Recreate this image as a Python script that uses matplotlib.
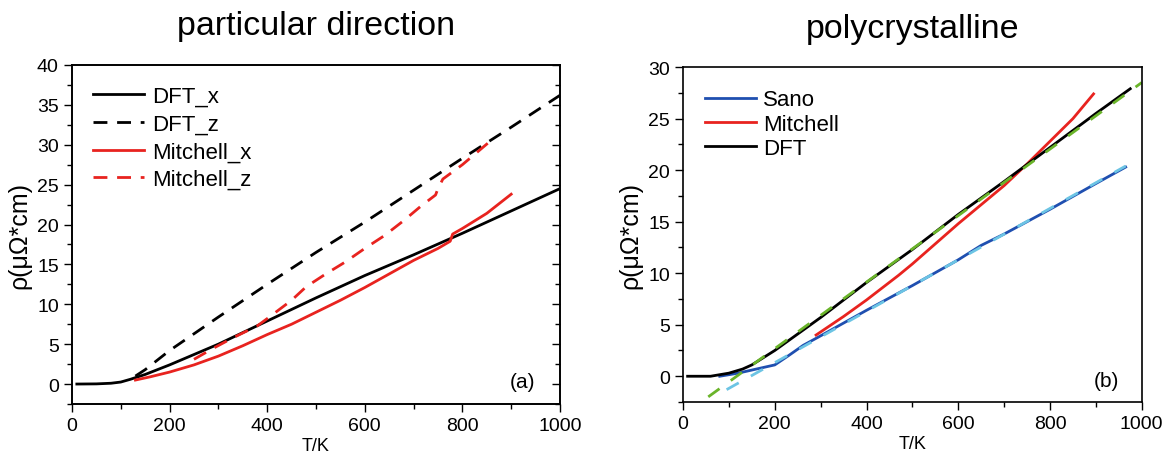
import numpy as np
import matplotlib
matplotlib.use("Agg")
import matplotlib.pyplot as plt
from matplotlib.ticker import MultipleLocator

plt.rcParams['font.family'] = ['Liberation Sans', 'DejaVu Sans']

# ---- panel (a): particular direction ----
dftx_T = [10, 50, 80, 100, 120, 150, 200, 250, 300, 400, 500, 600, 700, 800, 900, 1000]
dftx_r = [0.0, 0.02, 0.1, 0.25, 0.6, 1.2, 2.4, 3.7, 5.0, 7.9, 10.8, 13.6, 16.2, 18.9, 21.7, 24.5]

dftz_T = [130, 150, 200, 250, 300, 400, 500, 600, 700, 800, 900, 1000]
dftz_r = [1.0, 1.8, 4.2, 6.3, 8.4, 12.5, 16.5, 20.3, 24.3, 28.3, 32.2, 36.2]

mitx_T = [130, 160, 200, 250, 300, 350, 400, 450, 500, 550, 600, 650, 700, 750, 775, 780, 800, 850, 900]
mitx_r = [0.5, 0.9, 1.5, 2.4, 3.5, 4.8, 6.2, 7.5, 9.0, 10.5, 12.1, 13.8, 15.5, 17.0, 17.9, 18.8, 19.5, 21.4, 23.8]

mitz_T = [250, 290, 330, 380, 400, 450, 480, 520, 560, 600, 640, 680, 715, 745, 750, 760, 800, 860]
mitz_r = [3.1, 4.5, 5.8, 7.3, 8.2, 10.5, 12.2, 13.8, 15.3, 17.0, 18.6, 20.5, 22.3, 23.7, 24.5, 25.7, 27.5, 30.6]

# ---- panel (b): polycrystalline ----
sano_T = [80, 120, 150, 200, 230, 262, 295, 400, 500, 600, 650, 700, 800, 900, 965]
sano_r = [0.0, 0.3, 0.6, 1.1, 2.0, 3.0, 3.8, 6.4, 8.8, 11.3, 12.7, 13.8, 16.2, 18.7, 20.3]

sanofit_T = [95, 965]
sanofit_r = [-1.3, 20.4]

mitb_T = [290, 350, 400, 470, 500, 600, 700, 750, 800, 850, 895]
mitb_r = [4.0, 5.8, 7.4, 9.8, 10.9, 14.8, 18.5, 20.6, 22.8, 25.0, 27.4]

dft_T = [10, 60, 100, 130, 150, 200, 250, 300, 400, 500, 600, 700, 800, 900, 975]
dft_r = [0.0, 0.0, 0.3, 0.7, 1.1, 2.5, 4.1, 5.7, 9.1, 12.3, 15.7, 18.9, 22.2, 25.5, 27.9]

dftfit_T = [55, 1000]
dftfit_r = [-2.0, 28.5]

RED = '#e8231f'
BLUE = '#1f4fb0'
LBLUE = '#6cc4e4'
GREEN = '#6ab42a'

fig = plt.figure(figsize=(11.74, 4.6), dpi=100)
ax1 = fig.add_axes([0.0613, 0.1196, 0.4157, 0.737])
ax2 = fig.add_axes([0.5818, 0.1239, 0.3907, 0.728])

ax1.plot(dftx_T, dftx_r, '-', color='black', lw=2, label='DFT_x')
ax1.plot(dftz_T, dftz_r, '--', color='black', lw=2, dashes=(5, 3.5), label='DFT_z')
ax1.plot(mitx_T, mitx_r, '-', color=RED, lw=2, label='Mitchell_x')
ax1.plot(mitz_T, mitz_r, '--', color=RED, lw=2, dashes=(5, 3.5), label='Mitchell_z')
ax1.set_xlim(0, 1000)
ax1.set_ylim(-2.5, 40)
ax1.set_title('particular direction', fontsize=24.5, pad=22)
ax1.set_xlabel('T/K', fontsize=13, labelpad=2)
ax1.set_ylabel('ρ(μΩ*cm)', fontsize=18, labelpad=4)
ax1.text(0.95, 0.065, '(a)', transform=ax1.transAxes, ha='right', va='center', fontsize=15)
ax1.legend(loc='upper left', frameon=False, fontsize=16, handlelength=2.3,
           handletextpad=0.35, labelspacing=0.3, borderaxespad=0.55, borderpad=0.4)

ax2.plot(sano_T, sano_r, '-', color=BLUE, lw=2, label='Sano')
ax2.plot(mitb_T, mitb_r, '-', color=RED, lw=2, label='Mitchell')
ax2.plot(dft_T, dft_r, '-', color='black', lw=2, label='DFT')
ax2.plot(sanofit_T, sanofit_r, '--', color=LBLUE, lw=2, dashes=(5, 5))
ax2.plot(dftfit_T, dftfit_r, '--', color=GREEN, lw=2, dashes=(5, 5))
ax2.set_xlim(0, 1000)
ax2.set_ylim(-2.5, 30)
ax2.set_title('polycrystalline', fontsize=24.5, pad=22)
ax2.set_xlabel('T/K', fontsize=13, labelpad=2)
ax2.set_ylabel('ρ(μΩ*cm)', fontsize=18, labelpad=4)
ax2.text(0.95, 0.065, '(b)', transform=ax2.transAxes, ha='right', va='center', fontsize=15)
ax2.legend(loc='upper left', frameon=False, fontsize=16, handlelength=2.3,
           handletextpad=0.3, labelspacing=0.15, borderaxespad=0.6, borderpad=0.4)

# right-hand inward ticks on panel (a)
ax1r = ax1.twinx()
ax1r.set_ylim(ax1.get_ylim())

for ax in (ax1, ax2, ax1r):
    ax.xaxis.set_major_locator(MultipleLocator(200))
    ax.xaxis.set_minor_locator(MultipleLocator(100))
    ax.yaxis.set_major_locator(MultipleLocator(5))
    ax.yaxis.set_minor_locator(MultipleLocator(2.5))
    ax.tick_params(which='major', length=6, width=1, labelsize=14)
    ax.tick_params(which='minor', length=3.5, width=1)
    for s in ax.spines.values():
        s.set_linewidth(1.2)

ax1r.tick_params(which='both', direction='in', labelright=False)

fig.savefig('out.png', dpi=100)
